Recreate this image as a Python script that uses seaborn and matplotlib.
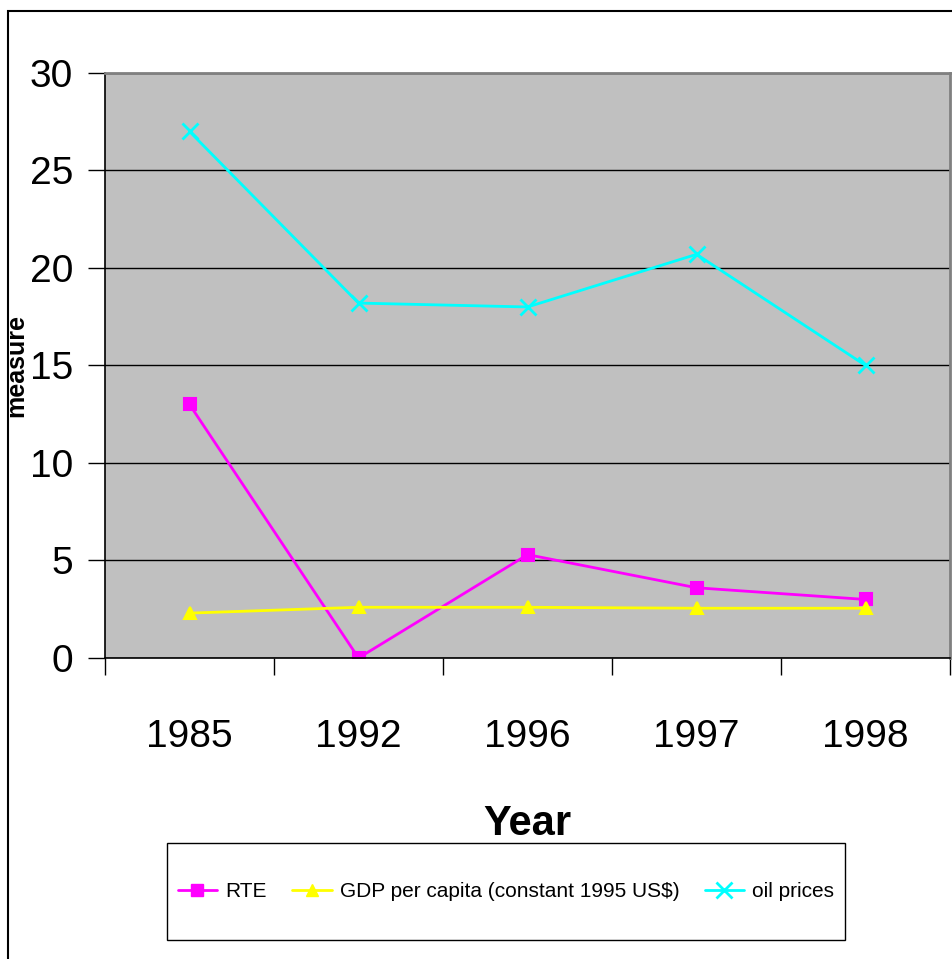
import matplotlib
matplotlib.use('Agg')
import matplotlib.pyplot as plt
from matplotlib.patches import Rectangle
from matplotlib.ticker import FixedLocator
import pandas as pd
import seaborn as sns

years = ["1985", "1992", "1996", "1997", "1998"]
rte = [13.0, 0.0, 5.3, 3.6, 3.0]
gdp = [2.3, 2.6, 2.6, 2.55, 2.55]
oil = [27.0, 18.2, 18.0, 20.7, 15.0]
series_names = ["RTE", "GDP per capita (constant 1995 US$)", "oil prices"]
colors = ["#FF00FF", "#FFFF00", "#00FFFF"]
markers = ["s", "^", "x"]
y_ticks = [0, 5, 10, 15, 20, 25, 30]

df = pd.concat([
    pd.DataFrame({"Year": years, "value": vals, "series": name})
    for name, vals in zip(series_names, [rte, gdp, oil])
])

sns.set_style("white")
plt.rcParams['font.family'] = ['Liberation Sans', 'DejaVu Sans']
for key in ["text.color", "axes.labelcolor", "xtick.color", "ytick.color"]:
    plt.rcParams[key] = "black"

W, H = 952, 959
fig = plt.figure(figsize=(W / 100, H / 100), dpi=100)
ax = fig.add_axes([0.1103, 0.3139, 0.8877, 0.6100])
ax.set_facecolor("#C0C0C0")

sns.pointplot(data=df, x="Year", y="value", hue="series", order=years,
              hue_order=series_names, palette=colors, markers=markers,
              linestyles="-", markersize=9, linewidth=2, errorbar=None,
              ax=ax, legend=False)
for line in ax.lines:
    if line.get_marker() == "x":
        line.set_markeredgewidth(2)
        line.set_markersize(11)

ax.set_ylim(0, 30)
ax.set_xlim(-0.5, len(years) - 0.5)
ax.set_yticks(y_ticks)
ax.yaxis.grid(True, color="black", linewidth=1)
ax.xaxis.grid(False)
ax.set_axisbelow(True)

# ticks sit on the category boundaries, labels in between
ax.xaxis.set_minor_locator(FixedLocator([i - 0.5 for i in range(len(years) + 1)]))
ax.tick_params(axis="x", which="major", length=0, pad=44, labelsize=28)
ax.tick_params(axis="x", which="minor", length=12, width=1, color="black", bottom=True)
ax.tick_params(axis="y", length=12, width=1, color="black", left=True, pad=11, labelsize=28)

for side in ["left", "bottom"]:
    ax.spines[side].set_color("black")
    ax.spines[side].set_linewidth(1.2)
for side in ["top", "right"]:
    ax.spines[side].set_visible(True)
    ax.spines[side].set_color("#808080")
    ax.spines[side].set_linewidth(2)

ax.set_xlabel("Year", fontsize=30, fontweight="bold", va="top")
ax.xaxis.set_label_coords(0.5, -0.25)
ax.set_ylabel("measure", fontsize=18, fontweight="bold")
ax.yaxis.set_label_coords(-0.091, 0.5)

# legend: content centred in a hand-drawn box (box is taller than the text)
box_l, box_r, box_t, box_b = 167, 845, 843, 940
handles = [plt.Line2D([], [], color=c, marker=m, markersize=9 if m != "x" else 11,
                      markeredgewidth=2 if m == "x" else 1, linewidth=2)
           for c, m in zip(colors, markers)]
fig.legend(handles, series_names, loc="center", ncol=3,
           bbox_to_anchor=((box_l + box_r) / 2 / W, 1 - (box_t + box_b) / 2 / H),
           fontsize=15, frameon=False, handlelength=1.9,
           handletextpad=0.4, columnspacing=1.2, borderaxespad=0)
fig.patches.append(Rectangle((box_l / W, 1 - box_b / H), (box_r - box_l) / W,
                             (box_b - box_t) / H, transform=fig.transFigure,
                             fill=False, edgecolor="black", linewidth=1))

# outer chart border
fig.patches.append(Rectangle((8 / W, -0.05), 1.1, 0.05 + 1 - 11 / H,
                             transform=fig.transFigure, fill=False,
                             edgecolor="black", linewidth=1.5))

fig.savefig("out.png", dpi=100)
